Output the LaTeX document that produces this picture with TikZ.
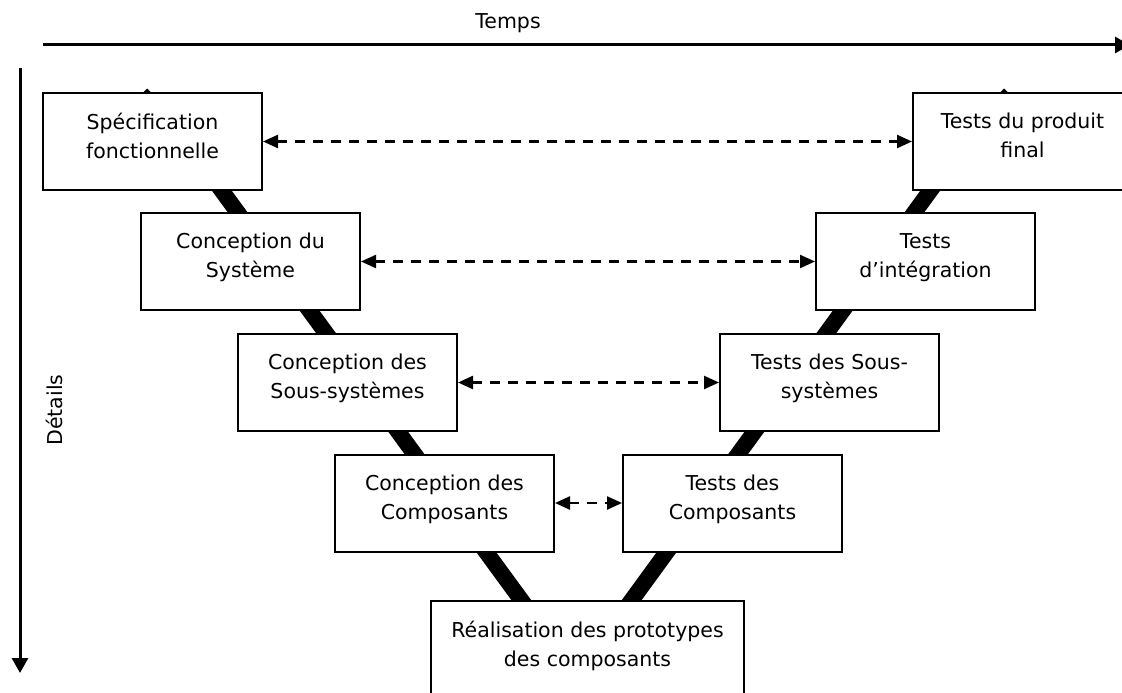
\documentclass[tikz,border=0pt]{standalone}
\usepackage{fontspec}
\setmainfont{DejaVu Sans}
\usetikzlibrary{arrows.meta}
\begin{document}
\begin{tikzpicture}[x=1pt,y=-1pt,
  box/.style={draw=black, line width=2pt, fill=white, rectangle, minimum width=219pt, minimum height=97pt, inner sep=0pt},
  lbl/.style={align=center, inner sep=0pt, anchor=north, font=\fontsize{20.5}{29}\selectfont},
  vline/.style={line width=16pt, draw=black},
  link/.style={line width=2.4pt, dash pattern=on 10pt off 8pt, {Triangle[length=15pt,width=13pt]}-{Triangle[length=15pt,width=13pt]}},
  axis/.style={line width=3pt, -{Triangle[length=15pt,width=16pt]}},
  tick/.style={fill=black},
]
\clip (0,0) rectangle (1122,693);
% axes
\coordinate (t0) at (43,45);
\coordinate (t1) at (1130,45);
\draw[axis] (t0) -- (t1);
\node[font=\fontsize{20.5}{24}\selectfont, anchor=base, inner sep=0pt] (temps) at (508,29) {Temps};
\coordinate (d0) at (20,68);
\coordinate (d1) at (20,673);
\draw[axis] (d0) -- (d1);
\node[font=\fontsize{20.5}{24}\selectfont, rotate=90, inner sep=0pt] (details) at (54,410) {Détails};
% V lines
\coordinate (vl0) at (214,180);
\coordinate (vl1) at (530,612);
\coordinate (vr0) at (938,180);
\coordinate (vr1) at (623,612);
\draw[vline] (vl0) -- (vl1);
\draw[vline] (vr0) -- (vr1);
% small tips above top boxes
\fill[tick] (142.5,93) -- (147,88.5) -- (151.5,93) -- cycle;
\fill[tick] (999.5,93) -- (1004,88.5) -- (1008.5,93) -- cycle;
% boxes
\node[box] (spec) at (152.5,141.5) {};
\node[lbl] (spec-t) at (152.5,113) {Spécification\\fonctionnelle};
\node[box] (tpf) at (1022.5,141.5) {};
\node[lbl] (tpf-t) at (1022.5,113) {Tests du produit\\final};
\node[box] (csys) at (250.5,261.5) {};
\node[lbl] (csys-t) at (250.5,233) {Conception du\\Système};
\node[box] (tint) at (925.5,261.5) {};
\node[lbl] (tint-t) at (925.5,233) {Tests\\d’intégration};
\node[box] (cssys) at (347.5,382.5) {};
\node[lbl] (cssys-t) at (347.5,354) {Conception des\\Sous-systèmes};
\node[box] (tssys) at (829.5,382.5) {};
\node[lbl] (tssys-t) at (829.5,354) {Tests des Sous-\\systèmes};
\node[box] (ccomp) at (444.5,503) {};
\node[lbl] (ccomp-t) at (444.5,474.5) {Conception des\\Composants};
\node[box] (tcomp) at (732.5,503) {};
\node[lbl] (tcomp-t) at (732.5,474.5) {Tests des\\Composants};
\node[box, minimum width=313pt] (real) at (587.5,649.5) {};
\node[lbl] (real-t) at (587.5,621) {Réalisation des prototypes\\des composants};
% dashed links
\draw[link] (spec.east) -- (tpf.west);
\draw[link] (csys.east) -- (tint.west);
\draw[link] (cssys.east) -- (tssys.west);
\draw[link] (ccomp.east) -- (tcomp.west);
\end{tikzpicture}
\end{document}
